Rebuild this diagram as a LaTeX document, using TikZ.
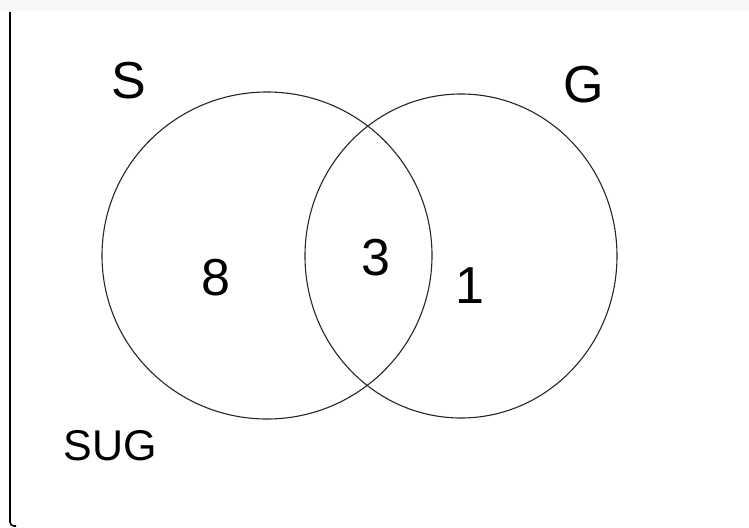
\documentclass[tikz,border=0pt]{standalone}
\usepackage{fontspec}
\setmainfont{Liberation Sans}
\begin{document}
\begin{tikzpicture}[x=1pt,y=-1pt,
  setc/.style={draw=black!85,line width=1.1pt},
  big/.style={font=\fontsize{52}{52}\selectfont,inner sep=0pt},
  small/.style={font=\fontsize{43}{43}\selectfont,inner sep=0pt}]
\useasboundingbox (0,0) rectangle (749,527);
\fill[black!3] (0,0) rectangle (749,11);
\draw[line width=1.6pt,rounded corners=4pt] (10,12) -- (10,526) -- (16,526);
\draw[setc] (267,255.5) ellipse [x radius=165, y radius=163.5];
\draw[setc] (461,256) ellipse [x radius=156, y radius=162];
\node[big] (s) at (129,80.5) {S};
\node[big] (g) at (584,85) {G};
\node[big] (n8) at (215.5,278) {8};
\node[big] (n3) at (376,258) {3};
\node[big] (n1) at (470,286) {1};
\node[small] (sug) at (110,446) {SUG};
\end{tikzpicture}
\end{document}
